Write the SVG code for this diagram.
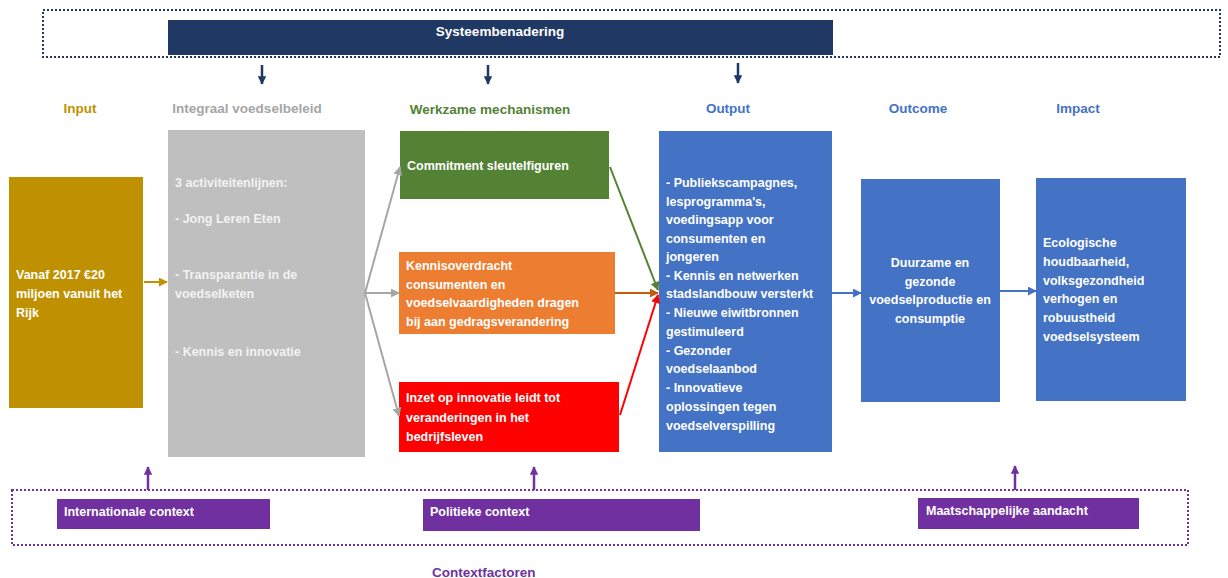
<svg xmlns="http://www.w3.org/2000/svg" width="1228" height="578" viewBox="0 0 1228 578">
<defs>
<style>
text{font-family:"Liberation Sans",Arial,sans-serif;font-weight:bold;font-size:12.5px}
.w{fill:#ffffff}
.lg{fill:#f2f2f2}
.h{font-size:13.5px}
</style>
<marker id="mNavy" viewBox="0 0 10 10" refX="9" refY="5" markerWidth="3.4" markerHeight="3.4" orient="auto"><path d="M0,0L10,5L0,10z" fill="#203864"/></marker>
<marker id="mGray" viewBox="0 0 10 10" refX="9" refY="5" markerWidth="4.5" markerHeight="4.5" orient="auto"><path d="M0,0L10,5L0,10z" fill="#a6a6a6"/></marker>
<marker id="mGold" viewBox="0 0 10 10" refX="9" refY="5" markerWidth="4.5" markerHeight="4.5" orient="auto"><path d="M0,0L10,5L0,10z" fill="#bf9000"/></marker>
<marker id="mGreen" viewBox="0 0 10 10" refX="9" refY="5" markerWidth="4.5" markerHeight="4.5" orient="auto"><path d="M0,0L10,5L0,10z" fill="#548235"/></marker>
<marker id="mOrange" viewBox="0 0 10 10" refX="9" refY="5" markerWidth="4.5" markerHeight="4.5" orient="auto"><path d="M0,0L10,5L0,10z" fill="#c55a11"/></marker>
<marker id="mRed" viewBox="0 0 10 10" refX="9" refY="5" markerWidth="4.5" markerHeight="4.5" orient="auto"><path d="M0,0L10,5L0,10z" fill="#ff0000"/></marker>
<marker id="mBlue" viewBox="0 0 10 10" refX="9" refY="5" markerWidth="4.5" markerHeight="4.5" orient="auto"><path d="M0,0L10,5L0,10z" fill="#4472c4"/></marker>
<marker id="mPurple" viewBox="0 0 10 10" refX="9" refY="5" markerWidth="3.4" markerHeight="3.4" orient="auto"><path d="M0,0L10,5L0,10z" fill="#7030a0"/></marker>
</defs>
<rect width="1228" height="578" fill="#ffffff"/>

<g id="systeem-frame">
<rect x="43" y="10" width="1177" height="47" fill="none" stroke="#203864" stroke-width="2" stroke-dasharray="2,2"/>
</g>
<g id="systeembenadering">
<rect x="168" y="20" width="665" height="35" fill="#203864"/>
<text class="w h" x="500" y="36" text-anchor="middle">Systeembenadering</text>
</g>

<g id="headers">
<text x="80" y="113" text-anchor="middle" fill="#bf9000" class="h">Input</text>
<text x="247" y="113" text-anchor="middle" fill="#a6a6a6" class="h">Integraal voedselbeleid</text>
<text x="490" y="114" text-anchor="middle" fill="#548235" class="h">Werkzame mechanismen</text>
<text x="728" y="113" text-anchor="middle" fill="#4472c4" class="h">Output</text>
<text x="918" y="113" text-anchor="middle" fill="#4472c4" class="h">Outcome</text>
<text x="1078" y="113" text-anchor="middle" fill="#4472c4" class="h">Impact</text>
</g>

<g id="input">
<rect x="9" y="177" width="134" height="231" fill="#bf9000"/>
<text class="w" x="16" y="279">Vanaf 2017 €20</text>
<text class="w" x="16" y="298">miljoen vanuit het</text>
<text class="w" x="16" y="317">Rijk</text>
</g>

<g id="integraal">
<rect x="168" y="130" width="197" height="327" fill="#bfbfbf"/>
<text class="lg" x="175" y="187">3 activiteitenlijnen:</text>
<text class="lg" x="175" y="223">- Jong Leren Eten</text>
<text class="lg" x="175" y="279">- Transparantie in de</text>
<text class="lg" x="175" y="298">voedselketen</text>
<text class="lg" x="175" y="356">- Kennis en innovatie</text>
</g>

<g id="commitment">
<rect x="400" y="131" width="209" height="68" fill="#548235"/>
<text class="w" x="407" y="170">Commitment sleutelfiguren</text>
</g>

<g id="kennisoverdracht">
<rect x="399" y="252" width="216" height="82" fill="#ed7d31"/>
<text class="w" x="406" y="270">Kennisoverdracht</text>
<text class="w" x="406" y="289">consumenten en</text>
<text class="w" x="406" y="307">voedselvaardigheden dragen</text>
<text class="w" x="406" y="326">bij aan gedragsverandering</text>
</g>

<g id="inzet">
<rect x="399" y="382" width="220" height="70" fill="#ff0000"/>
<text class="w" x="406" y="402">Inzet op innovatie leidt tot</text>
<text class="w" x="406" y="422">veranderingen in het</text>
<text class="w" x="406" y="441">bedrijfsleven</text>
</g>

<g id="output">
<rect x="659" y="131" width="173" height="321" fill="#4472c4"/>
<text class="w" x="666" y="187">- Publiekscampagnes,</text>
<text class="w" x="666" y="206">lesprogramma's,</text>
<text class="w" x="666" y="224">voedingsapp voor</text>
<text class="w" x="666" y="243">consumenten en</text>
<text class="w" x="666" y="261">jongeren</text>
<text class="w" x="666" y="280">- Kennis en netwerken</text>
<text class="w" x="666" y="298">stadslandbouw versterkt</text>
<text class="w" x="666" y="317">- Nieuwe eiwitbronnen</text>
<text class="w" x="666" y="336">gestimuleerd</text>
<text class="w" x="666" y="355">- Gezonder</text>
<text class="w" x="666" y="373">voedselaanbod</text>
<text class="w" x="666" y="392">- Innovatieve</text>
<text class="w" x="666" y="411">oplossingen tegen</text>
<text class="w" x="666" y="430">voedselverspilling</text>
</g>

<g id="outcome">
<rect x="861" y="179" width="139" height="223" fill="#4472c4"/>
<text class="w" x="930" y="267" text-anchor="middle">Duurzame en</text>
<text class="w" x="930" y="286" text-anchor="middle">gezonde</text>
<text class="w" x="930" y="304" text-anchor="middle">voedselproductie en</text>
<text class="w" x="930" y="323" text-anchor="middle">consumptie</text>
</g>

<g id="impact">
<rect x="1036" y="178" width="150" height="223" fill="#4472c4"/>
<text class="w" x="1043" y="247">Ecologische</text>
<text class="w" x="1043" y="266">houdbaarheid,</text>
<text class="w" x="1043" y="285">volksgezondheid</text>
<text class="w" x="1043" y="303">verhogen en</text>
<text class="w" x="1043" y="322">robuustheid</text>
<text class="w" x="1043" y="341">voedselsysteem</text>
</g>

<g id="context-frame">
<rect x="12" y="490" width="1176" height="55" fill="none" stroke="#7030a0" stroke-width="2" stroke-dasharray="2,2"/>
</g>
<g id="internationale">
<rect x="57" y="499" width="213" height="30" fill="#7030a0"/>
<text class="w" x="64" y="516">Internationale context</text>
</g>
<g id="politieke">
<rect x="423" y="499" width="277" height="32" fill="#7030a0"/>
<text class="w" x="430" y="516">Politieke context</text>
</g>
<g id="maatschappelijke">
<rect x="918" y="498" width="221" height="31" fill="#7030a0"/>
<text class="w" x="926" y="515">Maatschappelijke aandacht</text>
</g>
<g id="contextfactoren">
<text x="432" y="577" fill="#7030a0" class="h">Contextfactoren</text>
</g>

<g id="connectors" fill="none">
<line x1="262" y1="65" x2="262" y2="84" stroke="#203864" stroke-width="2.5" marker-end="url(#mNavy)"/>
<line x1="488" y1="65" x2="488" y2="84" stroke="#203864" stroke-width="2.5" marker-end="url(#mNavy)"/>
<line x1="738" y1="63" x2="738" y2="83" stroke="#203864" stroke-width="2.5" marker-end="url(#mNavy)"/>
<line x1="144" y1="282" x2="167" y2="282" stroke="#bf9000" stroke-width="2" marker-end="url(#mGold)"/>
<line x1="365" y1="293" x2="400" y2="167" stroke="#a6a6a6" stroke-width="2" marker-end="url(#mGray)"/>
<line x1="365" y1="293" x2="399" y2="293" stroke="#a6a6a6" stroke-width="2" marker-end="url(#mGray)"/>
<line x1="365" y1="293" x2="399" y2="416" stroke="#a6a6a6" stroke-width="2" marker-end="url(#mGray)"/>
<line x1="610" y1="167" x2="658" y2="290" stroke="#548235" stroke-width="2" marker-end="url(#mGreen)"/>
<line x1="615" y1="293" x2="658" y2="293" stroke="#c55a11" stroke-width="2" marker-end="url(#mOrange)"/>
<line x1="620" y1="415" x2="658" y2="295" stroke="#ff0000" stroke-width="2" marker-end="url(#mRed)"/>
<line x1="832" y1="293" x2="861" y2="293" stroke="#4472c4" stroke-width="2" marker-end="url(#mBlue)"/>
<line x1="1000" y1="291" x2="1036" y2="291" stroke="#4472c4" stroke-width="2" marker-end="url(#mBlue)"/>
<line x1="148" y1="490" x2="148" y2="467" stroke="#7030a0" stroke-width="2.5" marker-end="url(#mPurple)"/>
<line x1="534" y1="490" x2="534" y2="467" stroke="#7030a0" stroke-width="2.5" marker-end="url(#mPurple)"/>
<line x1="1015" y1="490" x2="1015" y2="466" stroke="#7030a0" stroke-width="2.5" marker-end="url(#mPurple)"/>
</g>
</svg>
